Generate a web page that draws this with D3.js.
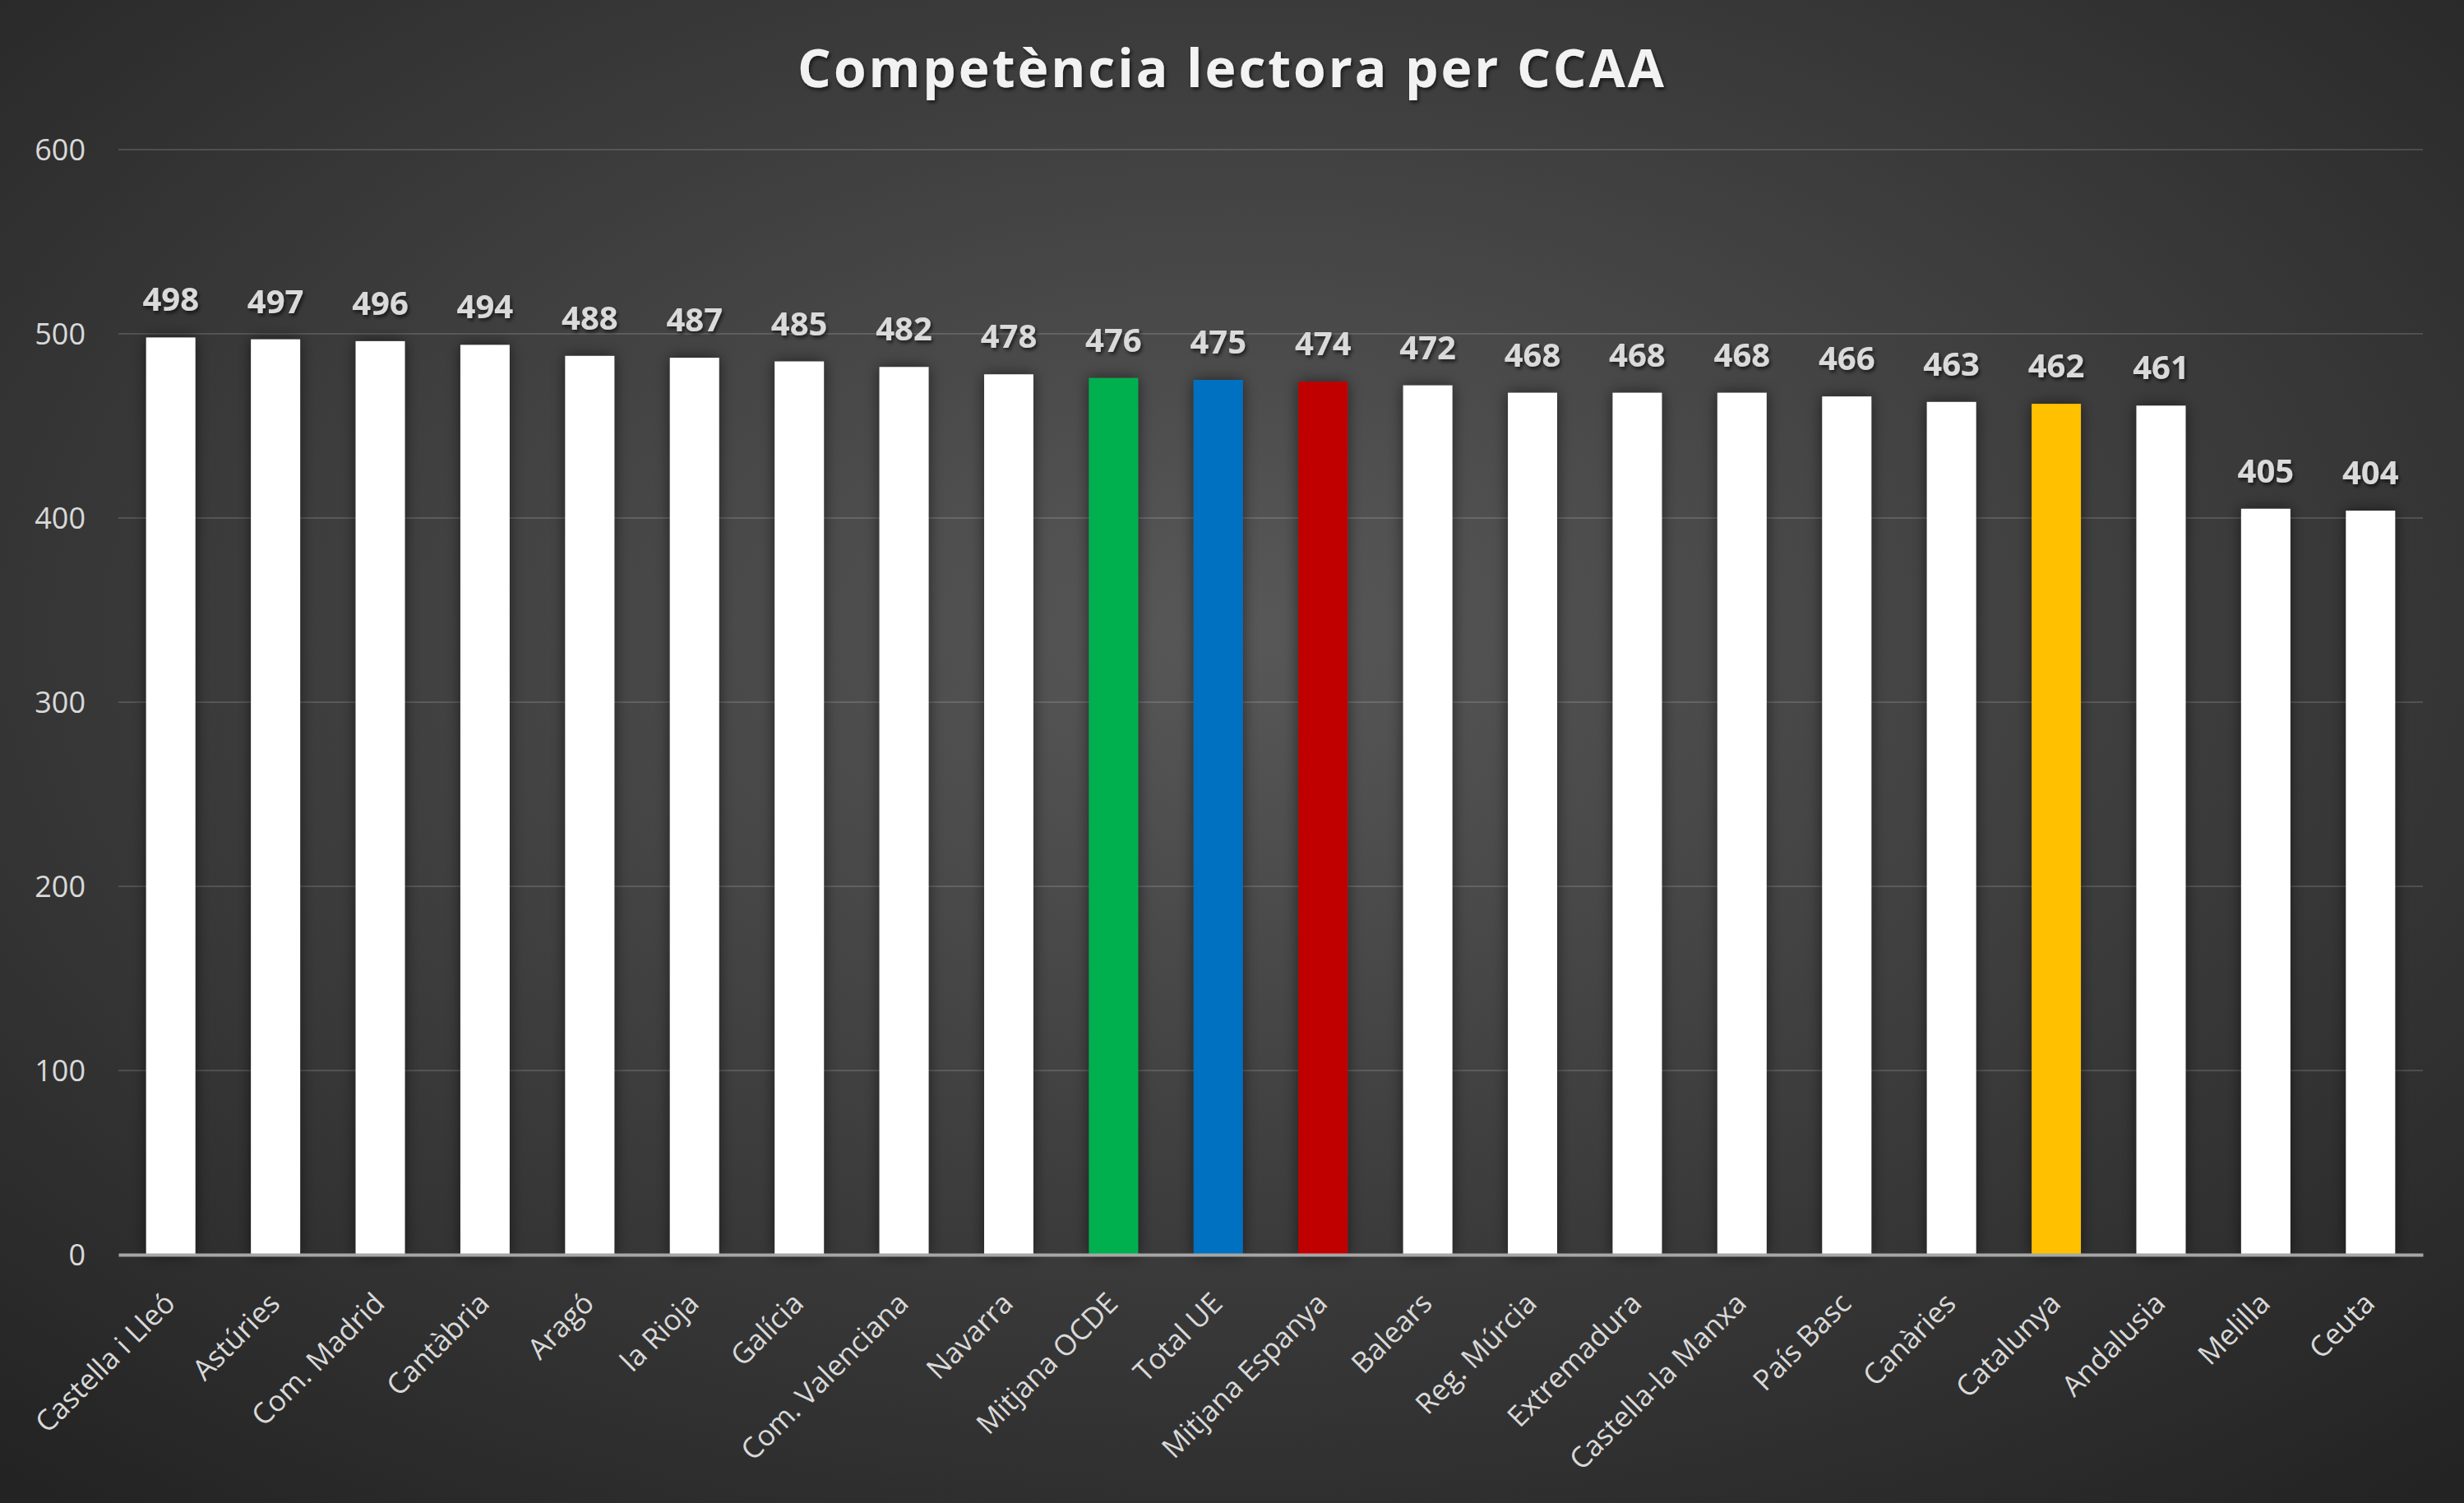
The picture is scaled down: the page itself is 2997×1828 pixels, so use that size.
<!DOCTYPE html>
<html><head><meta charset="utf-8">
<script src="https://cdn.jsdelivr.net/npm/d3@7"></script>
<style>html,body{margin:0;padding:0;background:#2a2a2a;overflow:hidden}</style>
</head><body>
<svg id="chart" width="2997" height="1828"></svg>
<script>
const categories = ["Castella i Lleó","Astúries","Com. Madrid","Cantàbria","Aragó","la Rioja","Galícia","Com. Valenciana","Navarra","Mitjana OCDE","Total UE","Mitjana Espanya","Balears","Reg. Múrcia","Extremadura","Castella-la Manxa","País Basc","Canàries","Catalunya","Andalusia","Melilla","Ceuta"];
const values = [498,497,496,494,488,487,485,482,478,476,475,474,472,468,468,468,466,463,462,461,405,404];
const barColors = ["#ffffff","#ffffff","#ffffff","#ffffff","#ffffff","#ffffff","#ffffff","#ffffff","#ffffff","#00B050","#0070C0","#C00000","#ffffff","#ffffff","#ffffff","#ffffff","#ffffff","#ffffff","#FFC000","#ffffff","#ffffff","#ffffff"];
const yTicks = [0,100,200,300,400,500,600];
const title = "Competència lectora per CCAA";

const W = 2997, H = 1828;
const m = {left:144, right:50, top:182, bottom:302};
const svg = d3.select("#chart");
const defs = svg.append("defs");
const rg = defs.append("radialGradient").attr("id","bg").attr("cx","50%").attr("cy","42%").attr("r","75%");
rg.append("stop").attr("offset","0%").attr("stop-color","#585858");
rg.append("stop").attr("offset","100%").attr("stop-color","#232323");
const sh = defs.append("filter").attr("id","shadow").attr("x","-30%").attr("y","-10%").attr("width","160%").attr("height","120%");
sh.append("feDropShadow").attr("dx",0).attr("dy",0).attr("stdDeviation",9).attr("flood-color","#000").attr("flood-opacity",0.55);
const ts = defs.append("filter").attr("id","tshadow");
ts.append("feDropShadow").attr("dx",2).attr("dy",3).attr("stdDeviation",2).attr("flood-color","#000").attr("flood-opacity",0.6);

svg.append("rect").attr("width",W).attr("height",H).attr("fill","url(#bg)");

const x = d3.scaleBand().domain(categories).range([m.left, W - m.right]).paddingInner(0.53).paddingOuter(0.265);
const y = d3.scaleLinear().domain([0,600]).range([H - m.bottom, m.top]);

// gridlines
svg.append("g").selectAll("line").data(yTicks.filter(t=>t>0)).join("line")
  .attr("x1", m.left).attr("x2", W - m.right)
  .attr("y1", d=>y(d)).attr("y2", d=>y(d))
  .attr("stroke","#ffffff").attr("stroke-opacity",0.14).attr("stroke-width",2);

// y axis labels
const yAxis = d3.axisLeft(y).tickValues(yTicks).tickSize(0).tickPadding(0);
const yg = svg.append("g").attr("transform",`translate(${m.left-40},0)`).call(yAxis);
yg.select(".domain").remove();
yg.selectAll("text").attr("fill","#d9d9d9").attr("font-family","'Open Sans', sans-serif").attr("font-size",36).attr("text-anchor","end").attr("dy","0.35em");

// bars
svg.append("g").selectAll("rect").data(values).join("rect")
  .attr("x",(d,i)=>x(categories[i])).attr("width",x.bandwidth())
  .attr("y",d=>y(d)).attr("height",d=>y(0)-y(d))
  .attr("fill",(d,i)=>barColors[i]).attr("filter","url(#shadow)");

// x axis
const xAxis = d3.axisBottom(x).tickSize(0).tickPadding(0);
const xg = svg.append("g").attr("transform",`translate(0,${y(0)})`).call(xAxis);
xg.select(".domain").attr("stroke","#a6a6a6").attr("stroke-width",4);
xg.selectAll(".tick text")
  .attr("fill","#d9d9d9").attr("font-family","'Open Sans', sans-serif").attr("font-size",35)
  .attr("text-anchor","end").attr("y",0)
  .attr("transform","translate(-10,44) rotate(-45)")
  .attr("dy","0.7em");

// value labels
svg.append("g").selectAll("text").data(values).join("text")
  .attr("x",(d,i)=>x(categories[i])+x.bandwidth()/2)
  .attr("y",d=>y(d)-32)
  .attr("text-anchor","middle")
  .attr("fill","#dadada").attr("font-family","'Open Sans', sans-serif").attr("font-weight","bold").attr("font-size",40)
  .attr("filter","url(#tshadow)")
  .text(d=>d);

// title
svg.append("text").attr("x",W/2).attr("y",106).attr("text-anchor","middle")
  .attr("fill","#f2f2f2").attr("font-family","'Open Sans', sans-serif").attr("font-weight","bold").attr("font-size",64)
  .attr("letter-spacing",3).attr("filter","url(#tshadow)").text(title);
</script>
</body></html>
